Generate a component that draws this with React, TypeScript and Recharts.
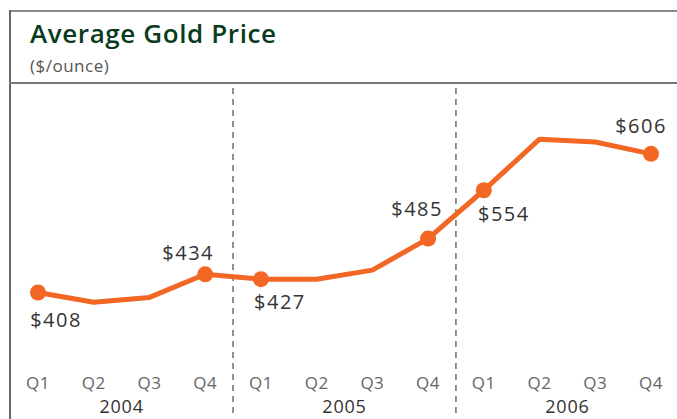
import React from "react";
import { LineChart, Line, XAxis, YAxis, ReferenceLine, LabelList } from "recharts";

const quarters = ["Q1", "Q2", "Q3", "Q4", "Q1", "Q2", "Q3", "Q4", "Q1", "Q2", "Q3", "Q4"];
const years = ["2004", "2005", "2006"];
const prices = [408, 394, 401, 434, 427, 427, 440, 485, 554, 627, 623, 606];
// quarters that get a dot and a price label
const labelled = [0, 3, 4, 7, 8, 11];

const data = prices.map((price, i) => ({ idx: i, quarter: quarters[i], price }));

// where each price label sits relative to its dot
const labelOffset: Record<number, [number, number]> = {
  0: [18, 34],
  3: [-17, -14],
  4: [19, 30],
  7: [-11, -23],
  8: [20, 31],
  11: [-10, -21],
};

const ORANGE = "#F26724";
const FONT = "'Open Sans', sans-serif";

const QuarterTick = (props: any) => {
  const { x, payload } = props;
  return (
    <text x={x} y={389} textAnchor="middle" fill="#666" fontSize={17} letterSpacing={0.5} fontFamily={FONT}>
      {quarters[payload.value]}
    </text>
  );
};

const YearTick = (props: any) => {
  const { x, payload } = props;
  return (
    <text x={x} y={413} textAnchor="middle" fill="#333" fontSize={18} letterSpacing={0.8} fontFamily={FONT}>
      {years[Math.floor(payload.value / 4)]}
    </text>
  );
};

const renderDot = (props: any) => {
  const { cx, cy, index } = props;
  if (!labelled.includes(index)) return <g key={`d${index}`} />;
  return <circle key={`d${index}`} cx={cx} cy={cy} r={8} fill={ORANGE} />;
};

const renderLabel = (props: any) => {
  const { x, y, index, value } = props;
  if (!labelled.includes(index)) return null;
  const [dx, dy] = labelOffset[index];
  return (
    <text
      x={x + dx}
      y={y + dy}
      textAnchor="middle"
      fill="#333"
      fontSize={20}
      letterSpacing={1.5}
      fontFamily={FONT}
    >
      ${value}
    </text>
  );
};

export default function App() {
  return (
    <div style={{ position: "absolute", left: 0, top: 0, width: 677, height: 419, background: "#fff" }}>
      <div style={{ position: "absolute", left: 9, top: 10, width: 668, height: 2, background: "#8a8a8a" }} />
      <div style={{ position: "absolute", left: 9, top: 10, width: 2, height: 409, background: "#666" }} />
      <div style={{ position: "absolute", left: 9, top: 82, width: 668, height: 2, background: "#777" }} />
      <div
        style={{
          position: "absolute",
          left: 30,
          top: 15,
          fontFamily: FONT,
          fontWeight: 600,
          fontSize: 26,
          letterSpacing: 0.6,
          color: "#0a3b1f",
          whiteSpace: "nowrap",
        }}
      >
        Average Gold Price
      </div>
      <div
        style={{
          position: "absolute",
          left: 30,
          top: 54,
          fontFamily: FONT,
          fontSize: 17,
          letterSpacing: 0.5,
          color: "#555",
          whiteSpace: "nowrap",
        }}
      >
        ($/ounce)
      </div>
      <LineChart
        width={677}
        height={419}
        data={data}
        margin={{ top: 88, right: 26, bottom: 4, left: 38 }}
        style={{ position: "absolute", left: 0, top: 0 }}
      >
        <XAxis
          dataKey="idx"
          type="number"
          domain={[0, 11]}
          ticks={[0, 1, 2, 3, 4, 5, 6, 7, 8, 9, 10, 11]}
          interval={0}
          height={1}
          axisLine={false}
          tickLine={false}
          tick={QuarterTick}
        />
        <XAxis
          xAxisId="year"
          dataKey="idx"
          type="number"
          domain={[0, 11]}
          ticks={[1.5, 5.5, 9.5]}
          interval={0}
          height={1}
          axisLine={false}
          tickLine={false}
          tick={YearTick}
        />
        <YAxis hide domain={[236, 700]} allowDataOverflow />
        <ReferenceLine x={3.5} stroke="#222" strokeDasharray="6 5" />
        <ReferenceLine x={7.5} stroke="#222" strokeDasharray="6 5" />
        <Line
          dataKey="price"
          stroke={ORANGE}
          strokeWidth={5}
          strokeLinejoin="round"
          dot={renderDot}
          activeDot={false}
          isAnimationActive={false}
        >
          <LabelList dataKey="price" content={renderLabel} />
        </Line>
      </LineChart>
    </div>
  );
}
